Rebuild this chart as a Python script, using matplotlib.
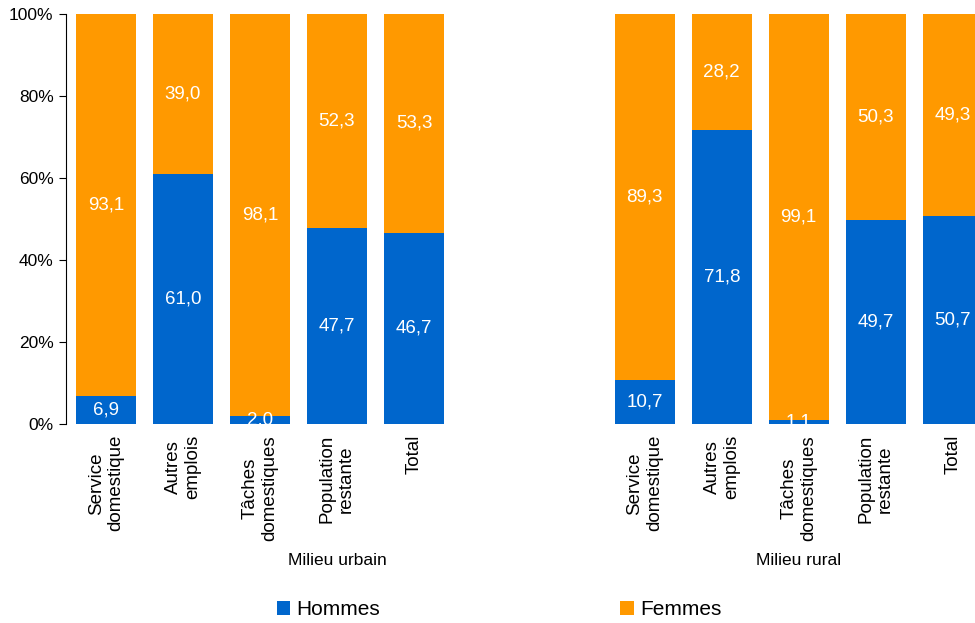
import numpy as np
import matplotlib
matplotlib.use("Agg")
import matplotlib.pyplot as plt
from matplotlib.ticker import PercentFormatter

plt.rcParams["font.family"] = ["Liberation Sans", "DejaVu Sans"]

# -----------------------
# Data (share in %)
# -----------------------
categories = ["Service\ndomestique", "Autres\nemplois", "Tâches\ndomestiques",
              "Population\nrestante", "Total"]
groups = ["Milieu urbain", "Milieu rural"]

urbain_hommes = [6.9, 61.0, 2.0, 47.7, 46.7]
urbain_femmes = [93.1, 39.0, 98.1, 52.3, 53.3]
rural_hommes = [10.7, 71.8, 1.1, 49.7, 50.7]
rural_femmes = [89.3, 28.2, 99.1, 50.3, 49.3]

BLUE = "#0066CC"
ORANGE = "#FF9900"

hommes = np.array(urbain_hommes + rural_hommes)
femmes = np.array(urbain_femmes + rural_femmes)
x = np.concatenate([np.arange(5), np.arange(5) + 7])

fig = plt.figure(figsize=(9.75, 6.23), dpi=100)
ax = fig.add_axes([0.0677, 0.3194, 0.9323, 0.6581])

width = 0.78
b1 = ax.bar(x, hommes, width, color=BLUE, label="Hommes")
b2 = ax.bar(x, femmes, width, bottom=hommes, color=ORANGE, label="Femmes")

def fmt(v):
    return f"{v:.1f}".replace(".", ",")

for xi, h, f in zip(x, hommes, femmes):
    ax.text(xi, h / 2, fmt(h), ha="center", va="center", color="white", fontsize=13.5)
    ax.text(xi, h + (100 - h) / 2, fmt(f), ha="center", va="center", color="white", fontsize=13.5)

ax.set_ylim(0, 100)
ax.set_xlim(-0.52, 11.29)
ax.yaxis.set_major_formatter(PercentFormatter(decimals=0))
ax.set_yticks(range(0, 101, 20))
ax.tick_params(axis="y", labelsize=12.5, length=5, direction="out", pad=4)

ax.set_xticks(x)
ax.set_xticklabels(categories * 2, rotation=90, fontsize=13.5, ma="center", va="top")
ax.tick_params(axis="x", length=0, pad=8)

for side in ["top", "right", "bottom"]:
    ax.spines[side].set_visible(False)

# group labels under the categories
for gx, name in zip([3, 9], groups):
    ax.text(gx, -0.332, name, ha="center", va="center", fontsize=12.5,
            transform=ax.get_xaxis_transform())

fig.legend(handles=[b1, b2], loc="lower left", bbox_to_anchor=(0.284, 0.006),
           ncol=2, frameon=False, fontsize=15, handlelength=0.65, handleheight=0.65,
           handletextpad=0.3, columnspacing=11.5, borderpad=0, borderaxespad=0)

fig.savefig("out.png", dpi=100)
